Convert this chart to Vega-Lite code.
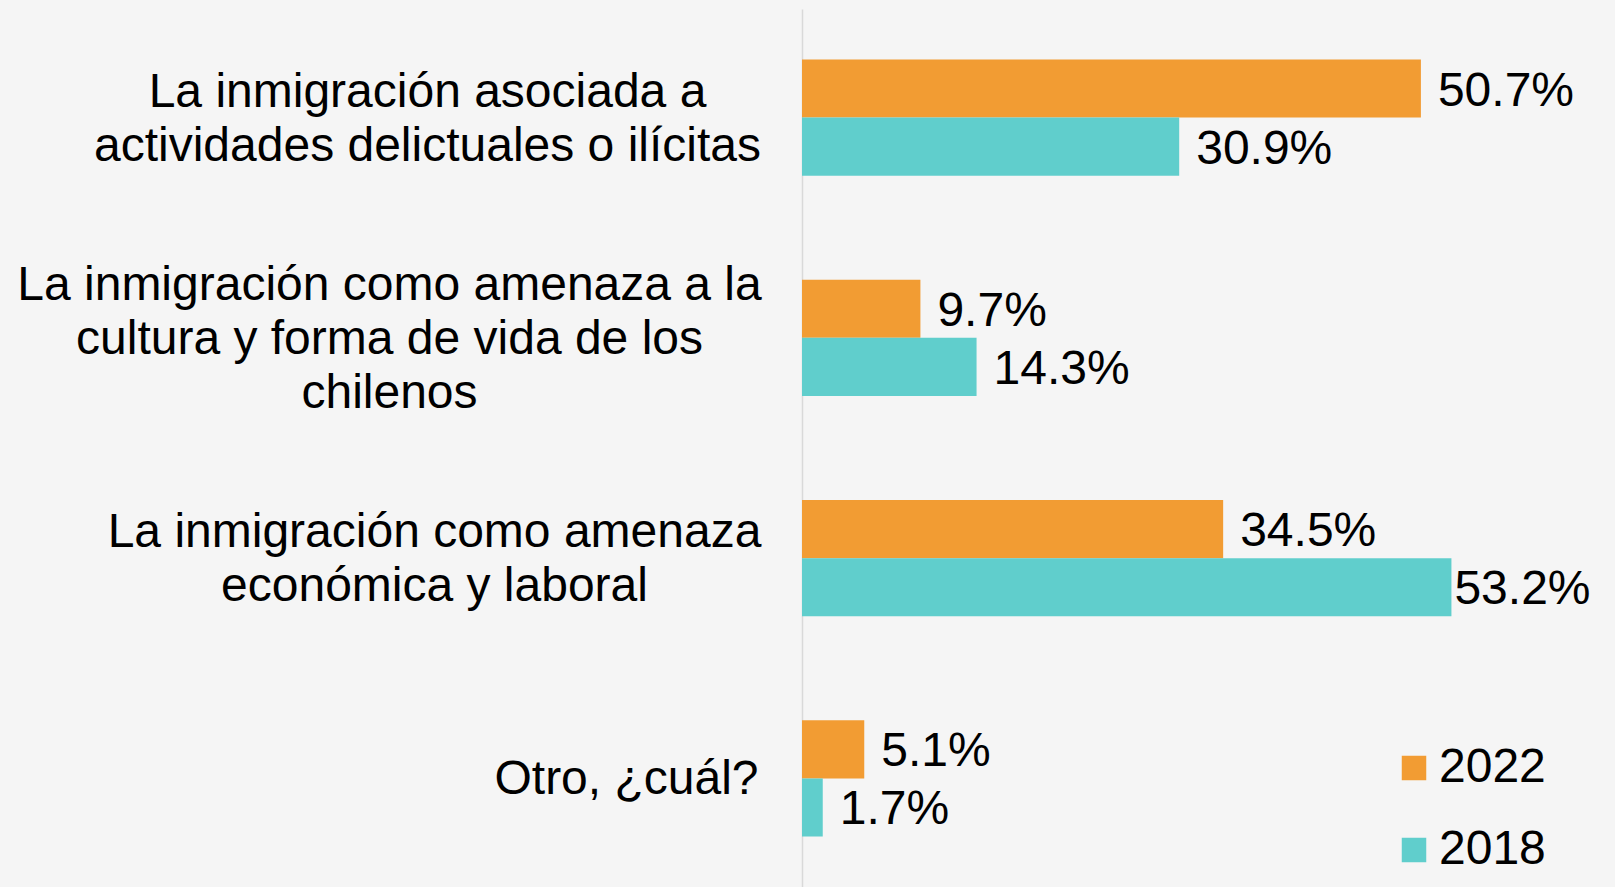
{
  "$schema": "https://vega.github.io/schema/vega-lite/v6.json",
  "autosize": {"type": "none"},
  "padding": {"left": 802, "top": 9, "right": 0, "bottom": 0},
  "width": 813,
  "height": 878,
  "background": "#f5f5f5",
  "config": {"view": {"stroke": null}, "font": "Liberation Sans"},
  "data": {"values": [
    {"categoria": "La inmigración asociada a|actividades delictuales o ilícitas", "anio": "2022", "valor": 50.7, "etiqueta": "50.7%"},
    {"categoria": "La inmigración asociada a|actividades delictuales o ilícitas", "anio": "2018", "valor": 30.9, "etiqueta": "30.9%"},
    {"categoria": "La inmigración como amenaza a la|cultura y forma de vida de los|chilenos", "anio": "2022", "valor": 9.7, "etiqueta": "9.7%"},
    {"categoria": "La inmigración como amenaza a la|cultura y forma de vida de los|chilenos", "anio": "2018", "valor": 14.3, "etiqueta": "14.3%"},
    {"categoria": "La inmigración como amenaza|económica y laboral", "anio": "2022", "valor": 34.5, "etiqueta": "34.5%"},
    {"categoria": "La inmigración como amenaza|económica y laboral", "anio": "2018", "valor": 53.2, "etiqueta": "53.2%"},
    {"categoria": "Otro, ¿cuál?", "anio": "2022", "valor": 5.1, "etiqueta": "5.1%"},
    {"categoria": "Otro, ¿cuál?", "anio": "2018", "valor": 1.7, "etiqueta": "1.7%"}
  ]},
  "encoding": {
    "y": {
      "field": "categoria", "type": "nominal", "sort": null,
      "scale": {"paddingInner": 0.4717, "paddingOuter": 0.229},
      "axis": {
        "title": null, "ticks": false,
        "domainColor": "#d9d9d9", "domainWidth": 1.5,
        "labelExpr": "split(datum.label, '|')",
        "labelFont": "Liberation Sans", "labelFontSize": 48, "labelColor": "#000000",
        "labelLineHeight": 54, "labelLimit": 900, "labelOverlap": false,
        "labelAlign": "center", "labelBaseline": "middle",
        "labelPadding": {
          "condition": [
            {"test": "indexof(datum.value, 'asociada') >= 0", "value": 375},
            {"test": "indexof(datum.value, 'cultura') >= 0", "value": 413},
            {"test": "indexof(datum.value, 'laboral') >= 0", "value": 368}
          ],
          "value": 176
        },
        "labelOffset": {
          "condition": [
            {"test": "indexof(datum.value, 'asociada') >= 0", "value": -25},
            {"test": "indexof(datum.value, 'cultura') >= 0", "value": -52},
            {"test": "indexof(datum.value, 'laboral') >= 0", "value": -25}
          ],
          "value": 2
        }
      }
    },
    "yOffset": {"field": "anio", "type": "nominal", "sort": ["2022", "2018"], "scale": {"paddingInner": 0, "paddingOuter": 0}},
    "x": {"field": "valor", "type": "quantitative", "scale": {"domain": [0, 66.6], "nice": false, "zero": true}, "axis": null}
  },
  "layer": [
    {
      "mark": {"type": "bar"},
      "encoding": {
        "color": {
          "field": "anio", "type": "nominal", "sort": ["2022", "2018"],
          "scale": {"domain": ["2022", "2018"], "range": ["#F29C33", "#60CECC"]},
          "legend": {
            "orient": "none", "legendX": 588, "legendY": 735, "title": null,
            "symbolType": "square", "symbolSize": 600, "symbolStrokeWidth": 0, "symbolOpacity": 1,
            "labelFont": "Liberation Sans", "labelFontSize": 48, "labelColor": "#000000",
            "labelOffset": 1, "rowPadding": 34, "padding": 0, "direction": "vertical"
          }
        }
      }
    },
    {
      "transform": [{"filter": "datum.valor < 53"}],
      "mark": {"type": "text", "align": "left", "baseline": "middle", "dx": 17, "dy": 3, "fontSize": 48, "font": "Liberation Sans", "color": "#000000"},
      "encoding": {"text": {"field": "etiqueta"}}
    },
    {
      "transform": [{"filter": "datum.valor >= 53"}],
      "mark": {"type": "text", "align": "left", "baseline": "middle", "dx": 3, "dy": 3, "fontSize": 48, "font": "Liberation Sans", "color": "#000000"},
      "encoding": {"text": {"field": "etiqueta"}}
    }
  ]
}
